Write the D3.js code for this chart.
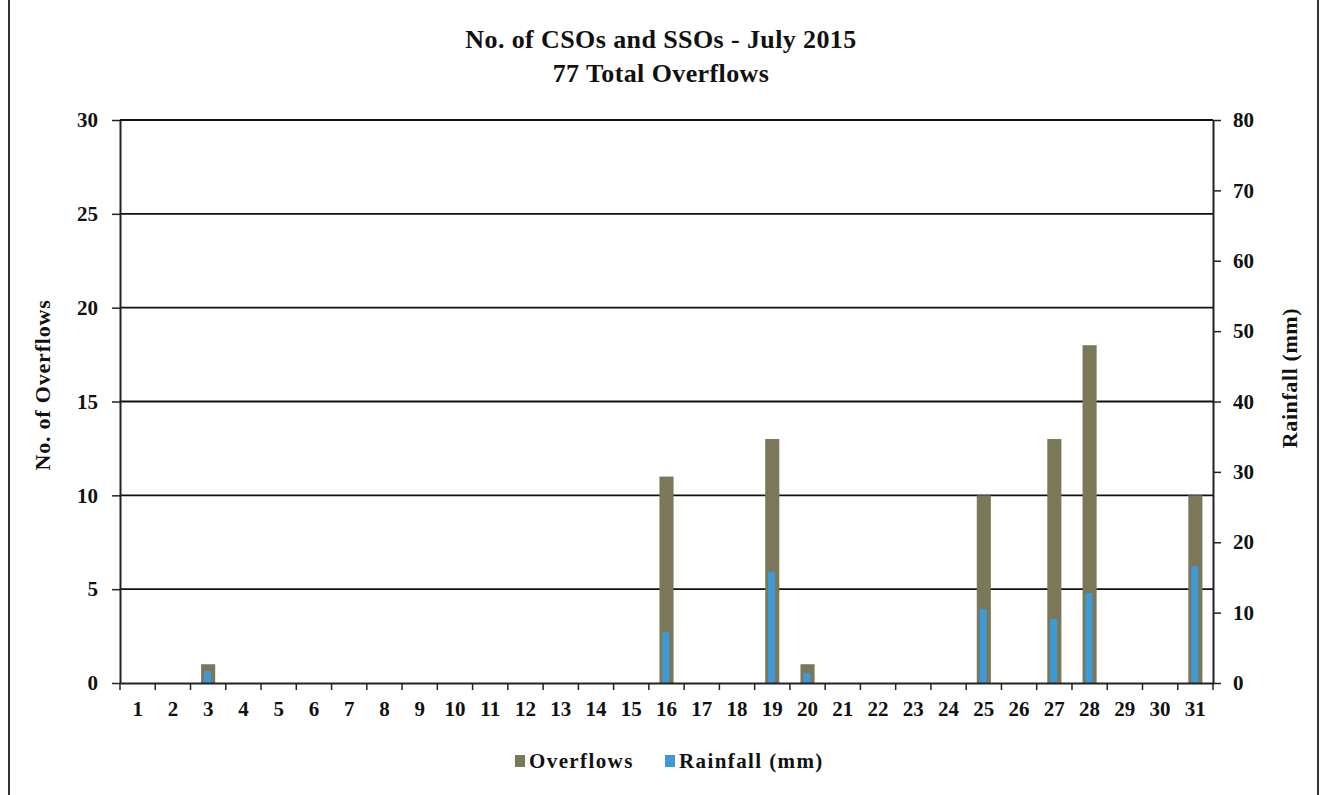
<!DOCTYPE html>
<html>
<head>
<meta charset="utf-8">
<script src="https://cdn.jsdelivr.net/npm/d3@7/dist/d3.min.js"></script>
<style>
  html, body { margin: 0; padding: 0; background: #fff; }
  svg { display: block; }
  text { font-family: "Liberation Serif", "Times New Roman", serif; font-weight: bold; fill: #111; }
</style>
</head>
<body>
<svg id="chart" width="1323" height="795"></svg>
<script>
// Days of July 2015
const days = d3.range(1, 32).map(String);
// Overflow counts per day (left axis)
const overflows = [0,0,1,0,0,0,0,0,0,0,0,0,0,0,0,11,0,0,13,1,0,0,0,0,10,0,13,18,0,0,10];
// Rainfall per day in mm (right axis)
const rainfall = [0,0,1.7,0,0,0,0,0,0,0,0,0,0,0,0,7.2,0,0,15.8,1.4,0,0,0,0,10.5,0,9.1,12.8,0,0,16.6];
const leftTicks = [0, 5, 10, 15, 20, 25, 30];
const rightTicks = [0, 10, 20, 30, 40, 50, 60, 70, 80];
const titleLines = ["No. of CSOs and SSOs - July 2015", "77 Total Overflows"];

const W = 1323, H = 795;
const plot = { left: 120, right: 1213, top: 120, bottom: 683 };
const olive = "#7a7858", blue = "#3d9ad6";

const svg = d3.select("#chart");

// page frame
svg.append("line").attr("x1", 9).attr("x2", 9).attr("y1", 0).attr("y2", H)
  .attr("stroke", "#333").attr("stroke-width", 2);
svg.append("line").attr("x1", 1318).attr("x2", 1318).attr("y1", 0).attr("y2", H)
  .attr("stroke", "#333").attr("stroke-width", 2);

const x = d3.scaleBand().domain(days).range([plot.left, plot.right]).padding(0);
const yL = d3.scaleLinear().domain([0, 30]).range([plot.bottom, plot.top]);
const yR = d3.scaleLinear().domain([0, 80]).range([plot.bottom, plot.top]);

// horizontal gridlines
svg.append("g").selectAll("line").data(leftTicks.filter(d => d > 0)).join("line")
  .attr("x1", plot.left).attr("x2", plot.right)
  .attr("y1", d => yL(d)).attr("y2", d => yL(d))
  .attr("stroke", "#111").attr("stroke-width", 1.8);

// bars
const bw = x.bandwidth();
svg.append("g").selectAll("rect").data(days).join("rect")
  .attr("x", d => x(d) + bw * 0.3)
  .attr("width", bw * 0.4)
  .attr("y", (d, i) => yL(overflows[i]))
  .attr("height", (d, i) => plot.bottom - yL(overflows[i]))
  .attr("fill", olive);
svg.append("g").selectAll("rect").data(days).join("rect")
  .attr("x", d => x(d) + bw * 0.38)
  .attr("width", bw * 0.2)
  .attr("y", (d, i) => yR(rainfall[i]))
  .attr("height", (d, i) => plot.bottom - yR(rainfall[i]))
  .attr("fill", blue);

// axes
const axisStyle = g => {
  g.select(".domain").attr("stroke", "#222").attr("stroke-width", 2);
  g.selectAll(".tick line").attr("stroke", "#222").attr("stroke-width", 1.5);
  g.selectAll(".tick text").attr("font-family", "Liberation Serif").attr("font-weight", "bold")
    .attr("font-size", 21).attr("fill", "#111");
};

svg.append("g").attr("transform", `translate(${plot.left},0)`)
  .call(d3.axisLeft(yL).tickValues(leftTicks).tickSize(8).tickSizeOuter(0).tickPadding(14))
  .call(axisStyle);

svg.append("g").attr("transform", `translate(${plot.right},0)`)
  .call(d3.axisRight(yR).tickValues(rightTicks).tickSize(8).tickSizeOuter(0).tickPadding(12))
  .call(axisStyle);

const xAxis = svg.append("g").attr("transform", `translate(0,${plot.bottom})`)
  .call(d3.axisBottom(x).tickSize(0).tickPadding(18))
  .call(axisStyle);
// tick marks sit between days
xAxis.selectAll(".between").data(d3.range(0, 32)).join("line")
  .attr("class", "between")
  .attr("x1", i => plot.left + i * bw).attr("x2", i => plot.left + i * bw)
  .attr("y1", 0).attr("y2", 7)
  .attr("stroke", "#222").attr("stroke-width", 1.5);

// titles
svg.append("g").selectAll("text").data(titleLines).join("text")
  .attr("x", 661).attr("y", (d, i) => 48 + i * 34)
  .attr("text-anchor", "middle").attr("font-size", 26)
  .attr("letter-spacing", 0.4)
  .text(d => d);

svg.append("text")
  .attr("transform", `translate(50,385) rotate(-90)`)
  .attr("text-anchor", "middle").attr("font-size", 22).attr("letter-spacing", 0.8)
  .text("No. of Overflows");

svg.append("text")
  .attr("transform", `translate(1297,378) rotate(-90)`)
  .attr("text-anchor", "middle").attr("font-size", 22).attr("letter-spacing", 0.6)
  .text("Rainfall (mm)");

// legend
const legend = [
  { label: "Overflows", color: olive, x: 515 },
  { label: "Rainfall (mm)", color: blue, x: 665 }
];
const lg = svg.append("g").selectAll("g").data(legend).join("g")
  .attr("transform", d => `translate(${d.x},768)`);
lg.append("rect").attr("x", 0).attr("y", -13).attr("width", 10).attr("height", 12).attr("fill", d => d.color);
lg.append("text").attr("x", 14).attr("y", 0).attr("font-size", 21).attr("letter-spacing", 1.4).text(d => d.label);
</script>
</body>
</html>
